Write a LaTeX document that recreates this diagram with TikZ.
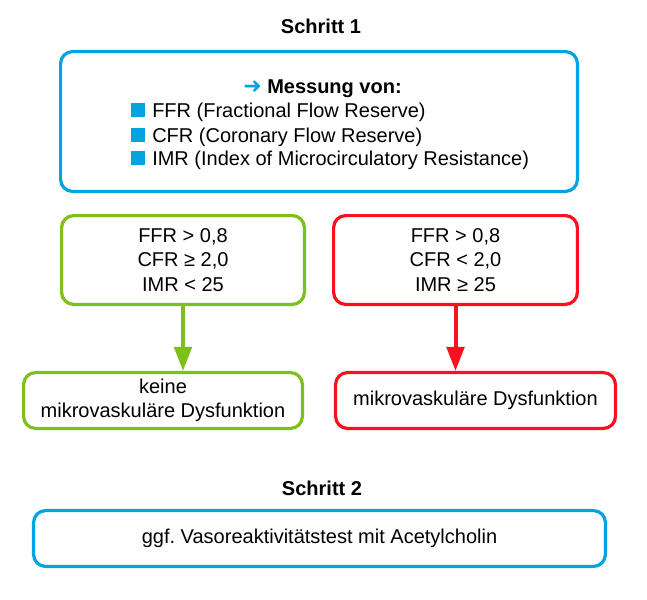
\documentclass[tikz,border=0pt]{standalone}
\usepackage{fontspec}
\setmainfont{Liberation Sans}
\newfontfamily\arrowfont{DejaVu Sans}
\usepackage{tikz}
\usetikzlibrary{arrows.meta}

\definecolor{stepblue}{RGB}{0,164,224}
\definecolor{okgreen}{RGB}{126,192,26}
\definecolor{badred}{RGB}{250,16,30}

\tikzset{
  box/.style={draw, line width=2.4pt, rounded corners=9pt, align=center, inner sep=0pt},
  flow/.style={line width=3pt, -{Triangle[width=13pt,length=18pt]}},
}

\begin{document}
\frenchspacing
\fontsize{15}{18.4}\selectfont
\begin{tikzpicture}[x=0.75pt,y=-0.75pt]
      \useasboundingbox (0,0) rectangle (647,600);
      % Schritt 1
      \node[font=\bfseries, anchor=base] (title1) at (321,33) {Schritt 1};
      \node[box, draw=stepblue, minimum width=387.6pt, minimum height=104.9pt] (mess) at (319,121.5) {};
      \node[font=\bfseries, anchor=base west, inner sep=0pt] (head) at (243,93) {{\arrowfont\fontsize{16.5}{18}\selectfont\textcolor{stepblue}{➜}}\ Messung von:};
      \foreach \i/\yb/\txt in {1/117/FFR (Fractional Flow Reserve),2/142/CFR (Coronary Flow Reserve),3/165/IMR (Index of Microcirculatory Resistance)}{
        \node[fill=stepblue, minimum size=10.5pt, inner sep=0pt] (sq\i) at (138,\yb-7) {};
        \node[anchor=base west, inner sep=0pt] (item\i) at (152,\yb) {\txt};
      }
      % criteria
      \node[box, draw=okgreen, minimum width=182.1pt, minimum height=66.6pt] (okcrit) at (183,260) {FFR > 0,8\\CFR ≥ 2,0\\IMR < 25};
      \node[box, draw=badred, minimum width=182.8pt, minimum height=66.6pt] (badcrit) at (455.5,260) {FFR > 0,8\\CFR < 2,0\\IMR ≥ 25};
      \node[box, draw=okgreen, minimum width=209.1pt, minimum height=41.9pt] (okres) at (163,400.5) {keine\\mikrovaskuläre Dysfunktion};
      \node[box, draw=badred, minimum width=209.9pt, minimum height=41.9pt] (badres) at (475.5,400.5) {mikrovaskuläre Dysfunktion};
      \draw[flow, okgreen] (okcrit.south) -- (okcrit.south |- okres.north);
      \draw[flow, badred] (badcrit.south) -- (badcrit.south |- badres.north);
      % Schritt 2
      \node[font=\bfseries, anchor=base] (title2) at (322,495) {Schritt 2};
      \node[box, draw=stepblue, minimum width=428.9pt, minimum height=41.9pt] (vaso) at (319.5,538.5) {ggf. Vasoreaktivitätstest mit Acetylcholin};
    \end{tikzpicture}
\end{document}
